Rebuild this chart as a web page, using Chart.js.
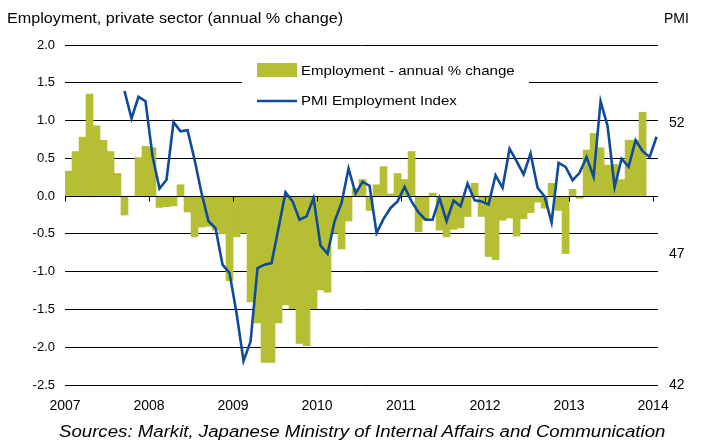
<!DOCTYPE html>
<html>
<head>
<meta charset="utf-8">
<script src="https://cdn.jsdelivr.net/npm/chart.js@4.4.1/dist/chart.umd.min.js"></script>
<style>
  body { margin: 0; background: #fff; }
  #wrap { position: relative; width: 701px; height: 447px; font-family: 'Liberation Sans', Arial, sans-serif; color: #000; }
  .txt { position: absolute; white-space: nowrap; line-height: 1; transform-origin: 0 0; }
</style>
</head>
<body>
<div id="wrap">
  <canvas id="chart" width="701" height="447"></canvas>
  <div class="txt" style="left:7px;top:11px;font-size:14px;transform:scaleX(1.155);">Employment, private sector (annual % change)</div>
  <div class="txt" style="left:664px;top:11px;font-size:14px;">PMI</div>
  <div class="txt" style="left:59px;top:424px;font-size:16px;font-style:italic;transform:scaleX(1.165);">Sources: Markit, Japanese Ministry of Internal Affairs and Communication</div>
</div>
<script>
// year tick labels, one every 12 months starting Jan 2007
const years = ['2007', '2008', '2009', '2010', '2011', '2012', '2013', '2014'];

// employment, annual % change, monthly from Jan 2007
const employment = [
  0.33, 0.59, 0.78, 1.35, 0.93, 0.74, 0.59, 0.30, -0.25, 0.0, 0.51, 0.66,    // 2007
  0.64, -0.15, -0.14, -0.13, 0.15, -0.21, -0.54, -0.41, -0.40, -0.45, -0.50, -1.12, // 2008
  -0.54, -0.49, -1.40, -1.68, -2.20, -2.20, -1.68, -1.44, -1.49, -1.95, -1.98, -1.49, // 2009
  -1.24, -1.27, -0.49, -0.70, -0.33, 0.10, 0.22, -0.19, 0.15, 0.39, 0.03, 0.30, // 2010
  0.22, 0.59, -0.47, -0.32, 0.04, -0.45, -0.54, -0.44, -0.42, -0.27, 0.17, -0.27, // 2011
  -0.80, -0.84, -0.32, -0.29, -0.53, -0.30, -0.22, -0.08, -0.16, 0.17, -0.19, -0.76, // 2012
  0.09, -0.03, 0.61, 0.83, 0.64, 0.41, 0.42, 0.22, 0.74, 0.74, 1.11, null,  // 2013
];

// PMI employment index, monthly from Sep 2007 to Jan 2014
const pmiStart = 8;
const pmi = [
  53.24, 52.19, 53.02, 52.85,                                                  // 2007
  50.75, 49.51, 49.85, 52.05, 51.70, 51.74, 50.62, 49.34, 48.26, 48.00, 46.60, 46.28, // 2008
  44.75, 42.92, 43.66, 46.47, 46.60, 46.66, 48.00, 49.37, 49.02, 48.32, 48.45, 49.15, // 2009
  47.33, 47.02, 48.26, 48.96, 50.28, 49.32, 49.77, 49.62, 47.81, 48.35, 48.77, 49.02, // 2010
  49.57, 49.02, 48.60, 48.32, 48.32, 49.15, 48.26, 49.05, 48.83, 49.70, 49.06, 49.02, // 2011
  48.90, 50.02, 49.54, 51.03, 50.56, 50.05, 50.85, 49.54, 49.21, 48.22, 50.49, 50.34, // 2012
  49.83, 50.11, 50.72, 49.96, 52.85, 51.90, 49.57, 50.65, 50.34, 51.36, 50.94, 50.72, // 2013
  51.49,                                                                       // 2014
];

const pmiTicks = [42, 47, 52];

const green = '#B6BE34';
const blue = '#0E4B9B';

Chart.defaults.font.family = "'Liberation Sans', Arial, sans-serif";
Chart.defaults.font.size = 13;
Chart.defaults.color = '#000';

const extras = {
  id: 'extras',
  beforeDatasetsDraw(chart) {
    // white box behind the legend, over the grid lines
    const ctx = chart.ctx;
    ctx.save();
    ctx.fillStyle = '#fff';
    ctx.fillRect(242, 53, 287, 62);
    ctx.restore();
  },
  afterDatasetDraw(chart, args) {
    if (args.index !== 0) return;
    // x axis sits on the zero line, with a short tick for every year
    const ctx = chart.ctx;
    const x = chart.scales.x, y = chart.scales.y;
    const y0 = Math.round(y.getPixelForValue(0)) + 0.5;
    ctx.save();
    ctx.strokeStyle = '#000';
    ctx.lineWidth = 1;
    ctx.beginPath();
    ctx.moveTo(chart.chartArea.left, y0);
    ctx.lineTo(chart.chartArea.right, y0);
    x.ticks.forEach((t) => {
      const px = Math.round(x.getPixelForValue(t.value)) + 0.5;
      ctx.moveTo(px, y0);
      ctx.lineTo(px, y0 + 5);
    });
    ctx.stroke();
    ctx.restore();
  },
  afterDraw(chart) {
    const ctx = chart.ctx;
    const ds = chart.data.datasets;
    ctx.save();
    ctx.textBaseline = 'middle';
    ctx.fillStyle = ds[0].backgroundColor;
    ctx.fillRect(257, 63, 40, 14);
    ctx.strokeStyle = ds[1].borderColor;
    ctx.lineWidth = ds[1].borderWidth;
    ctx.beginPath();
    ctx.moveTo(257, 101);
    ctx.lineTo(297, 101);
    ctx.stroke();
    ctx.fillStyle = '#000';
    ctx.font = "13px 'Liberation Sans', Arial, sans-serif";
    ctx.translate(301, 0);
    ctx.scale(1.16, 1);
    ctx.fillText(ds[0].label, 0, 71);
    ctx.fillText(ds[1].label, 0, 101);
    ctx.restore();
  },
};

new Chart('chart', {
  type: 'bar',
  plugins: [extras],
  data: {
    datasets: [
      {
        type: 'bar',
        label: 'Employment - annual % change',
        data: employment.map((v, i) => ({ x: i + 0.5, y: v })),
        backgroundColor: green,
        borderWidth: 0,
        barPercentage: 1,
        categoryPercentage: 1,
        yAxisID: 'y',
        order: 2,
      },
      {
        type: 'line',
        label: 'PMI Employment Index',
        data: pmi.map((v, i) => ({ x: i + pmiStart + 0.5, y: v })),
        borderColor: blue,
        borderWidth: 2.6,
        pointRadius: 0,
        tension: 0,
        yAxisID: 'y1',
        order: 1,
      },
    ],
  },
  options: {
    responsive: false,
    animation: false,
    devicePixelRatio: 1,
    layout: { padding: { top: 45, bottom: 32, left: 0, right: 0 } },
    plugins: {
      legend: { display: false },
      tooltip: { enabled: false },
    },
    scales: {
      x: {
        type: 'linear',
        offset: false,
        min: 0,
        max: 84.7,
        grid: { display: false, drawTicks: false },
        border: { display: false },
        afterBuildTicks: (scale) => {
          scale.ticks = years.map((y, i) => ({ value: i * 12 }));
        },
        afterFit: (scale) => { scale.height = 30; },
        ticks: {
          autoSkip: false,
          maxRotation: 0,
          padding: 13,
          font: { size: 14 },
          callback: (v, i) => years[i],
        },
      },
      y: {
        position: 'left',
        min: -2.5,
        max: 2.0,
        grid: { color: '#000', lineWidth: 1, drawTicks: false },
        border: { display: false },
        afterFit: (scale) => { scale.width = 65; },
        ticks: {
          stepSize: 0.5,
          padding: 10,
          callback: (v) => v.toFixed(1),
        },
      },
      y1: {
        position: 'right',
        min: 42,
        max: 55,
        grid: { display: false, drawTicks: false },
        border: { display: false },
        afterBuildTicks: (scale) => {
          scale.ticks = pmiTicks.map((v) => ({ value: v }));
        },
        afterFit: (scale) => { scale.width = 43; },
        ticks: { padding: 11, font: { size: 14 } },
      },
    },
  },
});
</script>
</body>
</html>
